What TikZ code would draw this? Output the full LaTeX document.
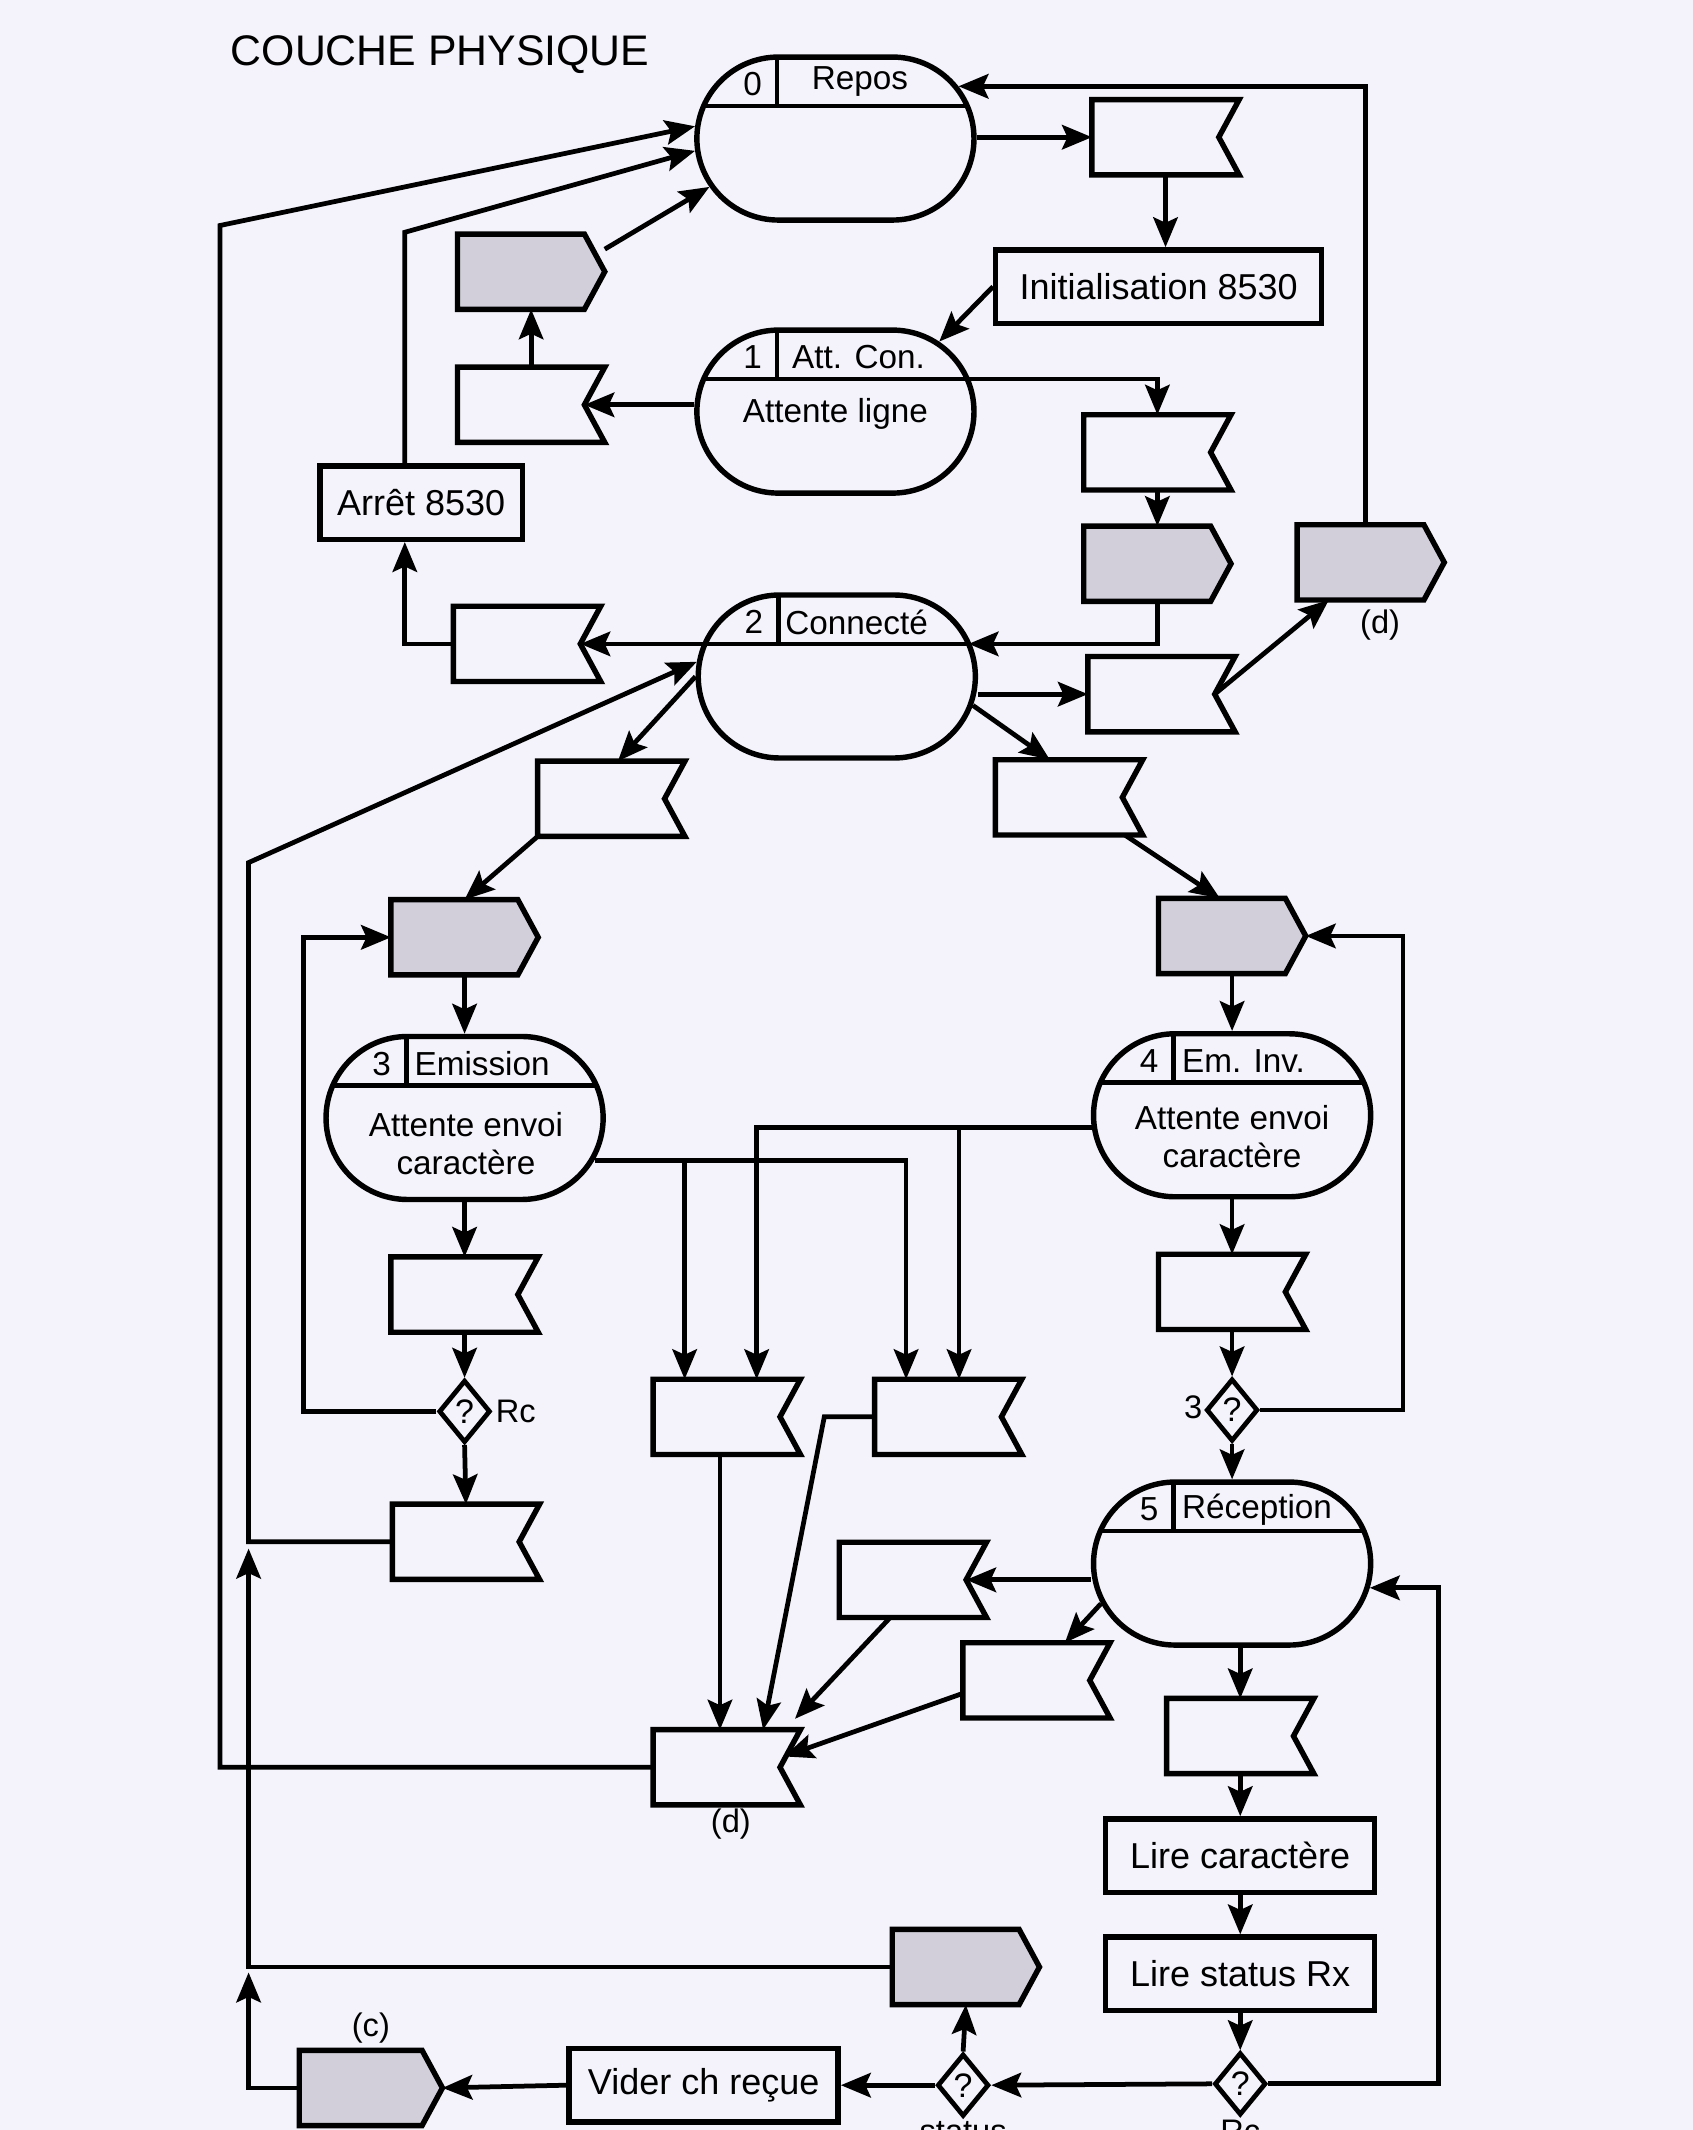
\documentclass[tikz,border=0pt]{standalone}
\usepackage{fontspec}
\setmainfont{Liberation Sans}
\usetikzlibrary{shapes.misc,shapes.geometric,arrows.meta,calc}
\definecolor{fond}{RGB}{244,242,250}
\definecolor{grise}{RGB}{210,207,218}
\tikzset{
  etat/.style={rounded rectangle, draw, line width=4pt, minimum width=204pt, minimum height=120pt, inner sep=0pt},
  boite/.style={rectangle, minimum width=108pt, minimum height=55pt, inner sep=0pt},
  forme/.style={line width=4pt, line join=miter},
  tache/.style={rectangle, draw, line width=4pt, minimum height=54pt, inner sep=0pt, font=\fontsize{26.5}{30}\selectfont},
  choix/.style={diamond, draw, line width=3.5pt, minimum width=38pt, minimum height=46pt, inner sep=0pt, font=\fontsize{25}{27}\selectfont},
  lien/.style={line width=3.5pt, -{Stealth[length=22pt,width=18pt,inset=4pt]}},
  entete/.style={font=\fontsize{24.5}{28}\selectfont, inner sep=0pt},
  corps/.style={font=\fontsize{24.5}{28}\selectfont, align=center, inner sep=0pt},
  marque/.style={font=\fontsize{24}{28}\selectfont, inner sep=0pt}
}

\begin{document}
\begin{tikzpicture}[x=1pt, y=-1pt]
  \fill[fond] (0,0) rectangle (1246,1568);
  \useasboundingbox (0,0) rectangle (1246,1568);

  \node[font=\fontsize{31.5}{36}\selectfont, inner sep=0pt] (titre) at (324,40) {COUCHE PHYSIQUE};

  \node[etat] (s0) at (615,102) {};
  \node[etat] (s1) at (615,303) {};
  \node[etat] (s2) at (616,498) {};
  \node[etat] (s3) at (342,823) {};
  \node[etat] (s4) at (907,821) {};
  \node[etat] (s5) at (907,1151) {};

  \foreach \e/\n in {s0/0, s1/1, s2/2, s3/3, s4/4, s5/5} {
    \draw[line width=3.5pt] (\e.center) ++(-97,-24) coordinate (\e g) -- ++(194,0) coordinate (\e d);
    \draw[line width=3.5pt] (\e.center) ++(-43,-24) -- ++(0,-36);
    \node[entete] at ($(\e.center)+(-61,-40)$) {\n};
  }
  \node[entete] at ($(s0.center)+(18,-42)$) {Repos};
  \node[entete, anchor=west] at ($(s1.center)+(-32,-40)$) {Att. Con.};
  \node[entete, anchor=west] at ($(s2.center)+(-38,-40)$) {Connecté};
  \node[entete, anchor=west] at ($(s3.center)+(-37,-40)$) {Emission};
  \node[entete, anchor=west] at ($(s4.center)+(-37,-40)$) {Em. Inv.};
  \node[entete, anchor=west] at ($(s5.center)+(-37,-40)$) {Réception};
  \node[corps] at ($(s1.center)+(0,2)$) {Attente ligne};
  \node[corps] at ($(s3.center)+(1,19)$) {Attente envoi\\caractère};
  \node[corps] at ($(s4.center)+(0,16)$) {Attente envoi\\caractère};

  \node[boite] (f1) at (858,101) {};
  \node[tache, minimum width=240pt] (init) at (853,211) {Initialisation 8530};
  \node[boite] (o1) at (391,200) {};
  \node[boite] (f2) at (391,298) {};
  \node[tache, minimum width=149pt] (arret) at (310,370) {Arrêt 8530};
  \node[boite] (f4) at (852,333) {};
  \node[boite] (o2) at (852,415) {};
  \node[boite] (o3) at (1009,414) {};
  \node[boite] (f3) at (388,474) {};
  \node[boite] (f5) at (855,511) {};
  \node[boite] (f6) at (787,587) {};
  \node[boite] (f7) at (450,588) {};
  \node[boite] (o5) at (342,690) {};
  \node[boite] (o4) at (907,689) {};
  \node[boite] (f8) at (342,953) {};
  \node[choix] (rc1) at (342,1039) {?};
  \node[boite] (f9) at (343,1135) {};
  \node[boite] (f10) at (535,1043) {};
  \node[boite] (f11) at (698,1043) {};
  \node[boite] (f12) at (535,1301) {};
  \node[boite] (f13) at (907,951) {};
  \node[choix] (q3) at (907,1038) {?};
  \node[boite] (f14) at (672,1163) {};
  \node[boite] (f15) at (763,1237) {};
  \node[boite] (f16) at (913,1278) {};
  \node[tache, minimum width=198pt] (lc) at (913,1366) {Lire caractère};
  \node[tache, minimum width=198pt] (ls) at (913,1453) {Lire status Rx};
  \node[choix] (rc2) at (913,1534) {?};
  \node[choix] (st) at (709,1535) {?};
  \node[boite] (o6) at (711,1448) {};
  \node[tache, minimum width=198pt] (vider) at (518,1535) {Vider ch reçue};
  \node[boite, minimum width=105pt] (o7) at (273,1537) {};

  \foreach \b in {f1,f2,f3,f4,f5,f6,f7,f8,f9,f10,f11,f12,f13,f14,f15,f16}
    \draw[forme] (\b.north west) -- (\b.north east) -- ([xshift=-15pt]\b.east)
      -- (\b.south east) -- (\b.south west) -- cycle;
  \foreach \b in {o1,o2,o3,o4,o5,o6,o7}
    \draw[forme, fill=grise] (\b.north west) -- ([xshift=-15pt]\b.north east) -- (\b.east)
      -- ([xshift=-15pt]\b.south east) -- (\b.south west) -- cycle;

  \node[marque] at (1016,460) {(d)};
  \node[marque] at (538,1343) {(d)};
  \node[marque] at (273,1493) {(c)};
  \node[marque, anchor=west] at ($(rc1.east)+(2,0)$) {Rc};
  \node[marque, anchor=east] at ($(q3.west)+(-1,-2)$) {3};
  \node[marque, anchor=north] at ($(st.south)+(0,2)$) {status};
  \node[marque, anchor=north] at ($(rc2.south)+(0,2)$) {Rc};

  \coordinate (a10) at ($(f10.north)+(-31,0)$);
  \coordinate (b10) at ($(f10.north)+(22,0)$);
  \coordinate (a11) at ($(f11.north)+(-31,0)$);
  \coordinate (b11) at ($(f11.north)+(8,0)$);
  \coordinate (rail) at (183,0);

  \draw[lien] (f1.west -| s0.east) -- (f1.west);
  \draw[lien] (f1.south) -- (f1.south |- init.north);
  \draw[lien] (init.west) -- (s1.34);
  \draw[lien] (f2.east -| s1.west) -- ($(f2.east)+(-15,0)$);
  \draw[lien] (f2.north) -- (o1.south);
  \draw[lien] (o1.17) -- (s0.201);
  \draw[lien] ($(arret.north)+(-12,0)$) -- ++(0,-170) -- (s0.185);
  \draw[lien] (f12.west) -| (162,166) -- (s0.175);
  \draw[lien] (f3.west) -| ($(arret.south)+(-12,0)$);
  \draw[lien] (s2g) -- ($(f3.east)+(-15,0)$);
  \draw[lien] (s1d) -| (f4.north);
  \draw[lien] (f4.south) -- (o2.north);
  \draw[lien] (o2.south) |- (s2d);
  \draw[lien] ($(o3.north)+(-4,0)$) |- (s0.23);
  \draw[lien] (f5.west -| s2.east) -- (f5.west);
  \draw[lien] ($(f5.east)+(-15,0)$) -- (o3.222);
  \draw[lien] (s2.-12) -- (f6.117);
  \draw[lien] (f6.-34) -- (o4.108);
  \draw[lien] (o4.south) -- (s4.north);
  \draw[lien] (q3.east) -- ++(105,0) |- (o4.east);
  \draw[lien] (s2.west) -- (f7.80);
  \draw[lien] (f7.south west) -- (o5.north);
  \draw[lien] (o5.south) -- (s3.north);
  \draw[lien] (rc1.west) -- ++(-98,0) |- (o5.west);
  \draw[lien] (s3.south) -- (f8.north);
  \draw[lien] (f8.south) -- (rc1.north);
  \draw[lien] (rc1.south) -- (f9.north);
  \draw[lien] (s3.-18) -| (a11);
  \draw[lien] (a10 |- s3.-18) -- (a10);
  \draw[lien] (s4.185) -| (b10);
  \draw[lien] (b11 |- s4.185) -- (b11);
  \draw[lien] ($(f10.south)+(-5,0)$) -- ($(f12.north)+(-5,0)$);
  \draw[lien] (f11.west) -- ++(-37,0) -- (f12.46);
  \draw[lien] (f14.-121) -- ($(f12.north east)+(-4,-8)$);
  \draw[lien] (f15.190) -- ($(f12.east)+(-12,-8)$);
  \draw[lien] (s4.south) -- (f13.north);
  \draw[lien] (f13.south) -- (q3.north);
  \draw[lien] (q3.south) -- (s5.north);
  \draw[lien] (f14.east -| s5.west) -- ($(f14.east)+(-15,0)$);
  \draw[lien] (s5.197) -- (f15.53);
  \draw[lien] (f16.north |- s5.south) -- (f16.north);
  \draw[lien] (f16.south) -- (lc.north);
  \draw[lien] (lc.south) -- (ls.north);
  \draw[lien] (ls.south) -- (rc2.north);
  \draw[lien] (rc2.east) -- ++(125,0) |- (s5.-10);
  \draw[lien] (rc2.west) -- (st.east);
  \draw[lien] (st.west) -- (vider.east);
  \draw[lien] (st.north) -- (o6.south);
  \draw[lien] (vider.west) -- (o7.east);
  \draw[lien] (o7.west) -| ($(o6.west -| rail)+(0,4)$);
  \draw[lien] (o6.west) -| ($(f9.west -| rail)+(0,5)$);
  \draw[lien] (f9.west) -| (183,635) -- (s2.174);
\end{tikzpicture}
\end{document}
